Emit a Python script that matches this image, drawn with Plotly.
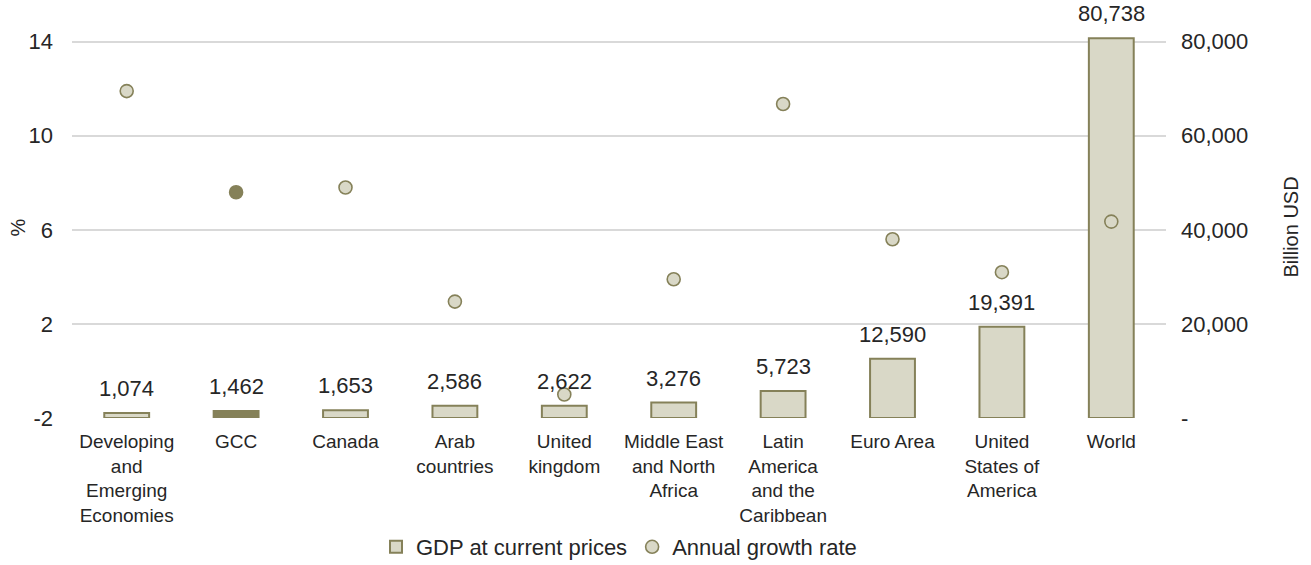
import plotly.graph_objects as go

categories = ["Developing<br>and<br>Emerging<br>Economies", "GCC", "Canada", "Arab<br>countries",
              "United<br>kingdom", "Middle East<br>and North<br>Africa", "Latin<br>America<br>and the<br>Caribbean",
              "Euro Area", "United<br>States of<br>America", "World"]
gdp = [1074, 1462, 1653, 2586, 2622, 3276, 5723, 12590, 19391, 80738]
growth = [11.9, 7.6, 7.8, 2.95, -1.0, 3.9, 11.35, 5.6, 4.2, 6.35]
highlight = "GCC"

usd_ticks = [0, 20000, 40000, 60000, 80000]
usd_labels = ["-", "20,000", "40,000", "60,000", "80,000"]
pct_ticks = [-2, 2, 6, 10, 14]
pct_labels = ["-2", "2", "6", "10", "14"]

LIGHT = "#d9d8c7"
DARK = "#858159"
TXT = "#262626"
FONT = "Liberation Sans, Arial, sans-serif"

W, H = 1311, 565
ML, MR, MT, MB = 72, 145, 37, 147
PW = W - ML - MR

bar_fill = [DARK if c == highlight else LIGHT for c in categories]
dot_fill = [DARK if c == highlight else LIGHT for c in categories]

fig = go.Figure()
fig.add_trace(go.Bar(
    x=categories, y=gdp, name="GDP at current prices", yaxis="y",
    marker=dict(color=bar_fill, line=dict(color=DARK, width=2)),
    width=0.41, cliponaxis=False, hoverinfo="x+y",
))
fig.add_trace(go.Scatter(
    x=categories, y=growth, name="Annual growth rate", yaxis="y2", mode="markers",
    marker=dict(size=13, color=dot_fill, line=dict(color=DARK, width=1.6)),
    cliponaxis=False,
))

for c, v in zip(categories, gdp):
    fig.add_annotation(x=c, y=v, yref="y", xref="x", text=f"{v:,}", showarrow=False,
                       yanchor="bottom", yshift=10, font=dict(size=22, color=TXT, family=FONT))

# axis titles
fig.add_annotation(x=(17 - ML) / PW, y=0.5, xref="paper", yref="paper", text="%", textangle=-90,
                   showarrow=False, xanchor="center", yanchor="middle", font=dict(size=20, color=TXT))
fig.add_annotation(x=(1290 - ML) / PW, y=0.5, xref="paper", yref="paper", text="Billion USD", textangle=-90,
                   showarrow=False, xanchor="center", yanchor="middle", font=dict(size=20, color=TXT))

fig.update_layout(
    width=W, height=H,
    margin=dict(l=ML, r=MR, t=MT, b=MB, autoexpand=False),
    paper_bgcolor="white", plot_bgcolor="white",
    font=dict(family=FONT, size=20, color=TXT),
    showlegend=True,
    legend=dict(orientation="h", x=0.5, xanchor="center", yref="container", y=(H - 547) / H,
                yanchor="middle", font=dict(size=22, color=TXT), itemwidth=30, tracegroupgap=0),
    xaxis=dict(showgrid=False, showline=False, ticks="", tickfont=dict(size=19, color=TXT),
               ticklabelstandoff=10, automargin=False, range=[-0.5, len(categories) - 0.5]),
    yaxis=dict(side="right", range=[0, 81000], tickvals=usd_ticks, ticktext=usd_labels,
               showgrid=True, gridcolor="#d9d9d9", gridwidth=1.5, zeroline=False, showline=False,
               tickfont=dict(size=22, color=TXT), ticklabelstandoff=14, automargin=False),
    yaxis2=dict(side="left", overlaying="y", range=[-2, 14.2], tickvals=pct_ticks, ticktext=pct_labels,
                showgrid=False, zeroline=False, showline=False, automargin=False,
                tickfont=dict(size=22, color=TXT), ticklabelstandoff=18),
)

fig.write_html("out.html", config={"displayModeBar": False},
               post_script="document.body.style.margin='0';document.body.style.overflow='hidden';")
